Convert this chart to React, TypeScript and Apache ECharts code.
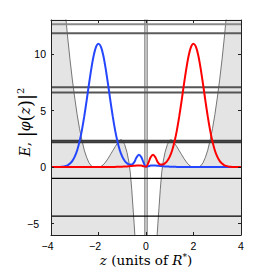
import React, { useEffect, useRef } from 'react';
import * as echarts from 'echarts';

// z sample points (units of R*)
const zGrid = [
  -4.0, -3.9, -3.8, -3.7, -3.6, -3.5, -3.4, -3.3, -3.2, -3.1,
  -3.0, -2.9, -2.8, -2.7, -2.6, -2.5, -2.4, -2.3, -2.2, -2.1,
  -2.0, -1.9, -1.8, -1.7, -1.6, -1.5, -1.4, -1.3, -1.2, -1.1,
  -1.0, -0.9, -0.8, -0.7, -0.6, -0.5, -0.4, -0.3, -0.2, -0.1,
  0.0, 0.1, 0.2, 0.3, 0.4, 0.5, 0.6, 0.7, 0.8, 0.9,
  1.0, 1.1, 1.2, 1.3, 1.4, 1.5, 1.6, 1.7, 1.8, 1.9,
  2.0, 2.1, 2.2, 2.3, 2.4, 2.5, 2.6, 2.7, 2.8, 2.9,
  3.0, 3.1, 3.2, 3.3, 3.4, 3.5, 3.6, 3.7, 3.8, 3.9, 4.0,
];

// |phi(z)|^2 of the left-localised state (blue)
const blueDensity = [
  0, 0, 0, 0.01, 0.02, 0.04, 0.09, 0.16, 0.31, 0.55,
  0.93, 1.47, 2.25, 3.25, 4.48, 5.88, 7.35, 8.73, 9.88, 10.64,
  10.9, 10.64, 9.88, 8.73, 7.35, 5.88, 4.48, 3.25, 2.25, 1.47,
  0.93, 0.56, 0.34, 0.22, 0.22, 0.42, 0.85, 1.1, 0.9, 0.38,
  0.03, 0.08, 0.14, 0.15, 0.14, 0.12, 0.1, 0.08, 0.06, 0.05,
  0.04, 0.03, 0.03, 0.02, 0.02, 0.02, 0.01, 0.01, 0.01, 0.01,
  0.01, 0.01, 0.01, 0.01, 0.01, 0.01, 0.01, 0.01, 0.01, 0.01,
  0.01, 0, 0, 0, 0, 0, 0, 0, 0, 0, 0,
];

// |phi(z)|^2 of the right-localised state (red)
const redDensity = [
  0, 0, 0, 0, 0, 0, 0, 0, 0, 0,
  0.01, 0.01, 0.01, 0.01, 0.01, 0.01, 0.01, 0.01, 0.01, 0.01,
  0.01, 0.01, 0.01, 0.01, 0.01, 0.02, 0.02, 0.02, 0.03, 0.03,
  0.04, 0.05, 0.06, 0.08, 0.1, 0.12, 0.14, 0.15, 0.14, 0.08,
  0.03, 0.38, 0.9, 1.1, 0.85, 0.42, 0.22, 0.22, 0.34, 0.56,
  0.93, 1.47, 2.25, 3.25, 4.48, 5.88, 7.35, 8.73, 9.88, 10.64,
  10.9, 10.64, 9.88, 8.73, 7.35, 5.88, 4.48, 3.25, 2.25, 1.47,
  0.93, 0.55, 0.31, 0.16, 0.09, 0.04, 0.02, 0.01, 0, 0, 0,
];

// potential curve V(z)
const potentialZ = [
  -4.0, -3.8, -3.6, -3.5, -3.4, -3.3, -3.2, -3.1, -3.0, -2.9,
  -2.8, -2.7, -2.6, -2.5, -2.4, -2.3, -2.2, -2.1, -2.0, -1.9,
  -1.8, -1.7, -1.6, -1.5, -1.4, -1.3, -1.2, -1.1, -1.05, -1.0,
  -0.9, -0.8, -0.72, -0.66, -0.6, -0.55, -0.5, -0.45, -0.4, -0.3,
  -0.05, -0.05, 0.05, 0.05,
  0.3, 0.4, 0.45, 0.5, 0.55, 0.6, 0.66, 0.72, 0.8, 0.9,
  1.0, 1.05, 1.1, 1.2, 1.3, 1.4, 1.5, 1.6, 1.7, 1.8,
  1.9, 2.0, 2.1, 2.2, 2.3, 2.4, 2.5, 2.6, 2.7, 2.8,
  2.9, 3.0, 3.1, 3.2, 3.3, 3.4, 3.5, 3.6, 3.8, 4.0,
];
const potentialV = [
  31, 24.3, 18.6, 16.1, 13.7, 11.5, 9.5, 7.7, 6.1, 4.65,
  3.4, 2.4, 1.5, 0.86, 0.38, 0.1, 0, 0, 0, 0.05,
  0.2, 0.45, 0.75, 1.1, 1.45, 1.8, 2.12, 2.38, 2.42, 2.38,
  2.0, 1.3, 0.45, -0.5, -2.0, -3.5, -5.0, -6.6, -8.5, -11,
  -11, 25, 25, -11,
  -11, -8.5, -6.6, -5.0, -3.5, -2.0, -0.5, 0.45, 1.3, 2.0,
  2.38, 2.42, 2.38, 2.12, 1.8, 1.45, 1.1, 0.75, 0.45, 0.2,
  0.05, 0, 0, 0, 0.1, 0.38, 0.86, 1.5, 2.4, 3.4,
  4.65, 6.1, 7.7, 9.5, 11.5, 13.7, 16.1, 18.6, 24.3, 31,
];

// energy levels
const energyLevels = [12.62, 11.83, 7.05, 6.6, 2.33, 2.2, -1.0, -4.34];

const yTicks = [-5, 0, 5, 10];

const levelColors = ['#8a8a8a', '#5c5c5c', '#555555', '#555555', '#3a3a3a', '#3a3a3a', '#000000', '#000000'];
const levelWidths = [2, 2, 2, 2, 2, 2, 1.3, 1.3];

const SANS = 'Liberation Sans, Arial, sans-serif';
const SERIF = 'DejaVu Serif, serif';

function tickFmt(v: number) {
  const r = Math.round(v);
  if (r < 0) return '{neg|\u2212' + Math.abs(r) + '}';
  return '{pos|' + r + '}';
}

export default function App() {
  const ref = useRef<HTMLDivElement>(null);
  useEffect(() => {
    if (!ref.current) return;
    const chart = echarts.init(ref.current, undefined, { renderer: 'svg' });
    const labelRich = {
      neg: { fontFamily: SANS, fontSize: 10.5, color: '#000', padding: [0, 7, 0, 0] },
      pos: { fontFamily: SANS, fontSize: 10.5, color: '#000' },
    };
    const axisLineStyle = { color: '#222', width: 1 };
    const levelSeries = energyLevels.map((e, i) => ({
      type: 'line',
      data: [[-4, e], [4, e]],
      symbol: 'none',
      silent: true,
      lineStyle: { color: levelColors[i], width: levelWidths[i] },
      z: 3,
    }));
    chart.setOption({
      animation: false,
      grid: { left: 51, top: 20, width: 190, height: 215 },
      xAxis: [
        {
          type: 'value', min: -4, max: 4, interval: 2, position: 'bottom',
          axisLine: { show: true, onZero: false, lineStyle: axisLineStyle },
          axisTick: { show: true, inside: true, length: 3, lineStyle: axisLineStyle },
          axisLabel: { margin: 5, formatter: tickFmt, rich: labelRich },
          splitLine: { show: false },
          z: 10,
        },
        {
          type: 'value', min: -4, max: 4, interval: 2, position: 'top',
          axisLine: { show: true, onZero: false, lineStyle: axisLineStyle },
          axisTick: { show: true, inside: true, length: 3, lineStyle: axisLineStyle },
          axisLabel: { show: false },
          splitLine: { show: false },
          z: 10,
        },
      ],
      yAxis: [
        {
          type: 'value', min: -6, max: 13, position: 'left',
          axisLine: { show: true, onZero: false, lineStyle: axisLineStyle },
          axisTick: { show: true, inside: true, length: 3, lineStyle: axisLineStyle, customValues: yTicks },
          axisLabel: { margin: 5, formatter: tickFmt, rich: labelRich, customValues: yTicks },
          splitLine: { show: false },
          z: 10,
        },
        {
          type: 'value', min: -6, max: 13, position: 'right',
          axisLine: { show: true, onZero: false, lineStyle: axisLineStyle },
          axisTick: { show: true, inside: true, length: 3, lineStyle: axisLineStyle, customValues: yTicks },
          axisLabel: { show: false },
          splitLine: { show: false },
          z: 10,
        },
      ],
      series: [
        {
          type: 'line',
          data: potentialZ.map((z, i) => [z, potentialV[i]]),
          symbol: 'none',
          silent: true,
          lineStyle: { color: '#555555', width: 0.8 },
          areaStyle: { color: '#e4e4e4', opacity: 1, origin: 'start' },
          z: 1,
        },
        ...levelSeries,
        {
          type: 'line',
          data: zGrid.map((z, i) => [z, blueDensity[i]]),
          symbol: 'none',
          smooth: 0.3,
          silent: true,
          lineStyle: { color: '#2546ff', width: 2 },
          z: 5,
        },
        {
          type: 'line',
          data: zGrid.map((z, i) => [z, redDensity[i]]),
          symbol: 'none',
          smooth: 0.3,
          silent: true,
          lineStyle: { color: '#ff0000', width: 2 },
          z: 6,
        },
      ],
      graphic: [
        {
          type: 'text',
          x: 146,
          y: 260,
          style: {
            text: '{i|z}{r| (units of }{i|R}{s|*}{r|)}',
            align: 'center',
            verticalAlign: 'middle',
            rich: {
              i: { fontFamily: SERIF, fontStyle: 'italic', fontSize: 13.5, lineHeight: 16, fill: '#000' },
              r: { fontFamily: SERIF, fontSize: 13.5, lineHeight: 16, fill: '#000' },
              s: { fontFamily: SERIF, fontSize: 9, lineHeight: 10, verticalAlign: 'top', fill: '#000' },
            },
          },
        },
        {
          type: 'text',
          x: 25,
          y: 122,
          rotation: Math.PI / 2,
          style: {
            text: '{i|E}{r|, }{b||}{i|\u03c6}{b|(}{i|z}{b|)}{b||}{s|2}',
            align: 'center',
            verticalAlign: 'middle',
            rich: {
              i: { fontFamily: SERIF, fontStyle: 'italic', fontSize: 14, lineHeight: 20, fill: '#000' },
              r: { fontFamily: SERIF, fontSize: 14, lineHeight: 20, fill: '#000' },
              b: { fontFamily: SERIF, fontSize: 18, lineHeight: 20, fill: '#000' },
              s: { fontFamily: SERIF, fontSize: 10, lineHeight: 10, verticalAlign: 'top', fill: '#000' },
            },
          },
        },
      ],
    });
    return () => chart.dispose();
  }, []);
  return (
    <div
      ref={ref}
      style={{ position: 'absolute', left: 0, top: 0, width: 266, height: 268, background: '#fff' }}
    />
  );
}
